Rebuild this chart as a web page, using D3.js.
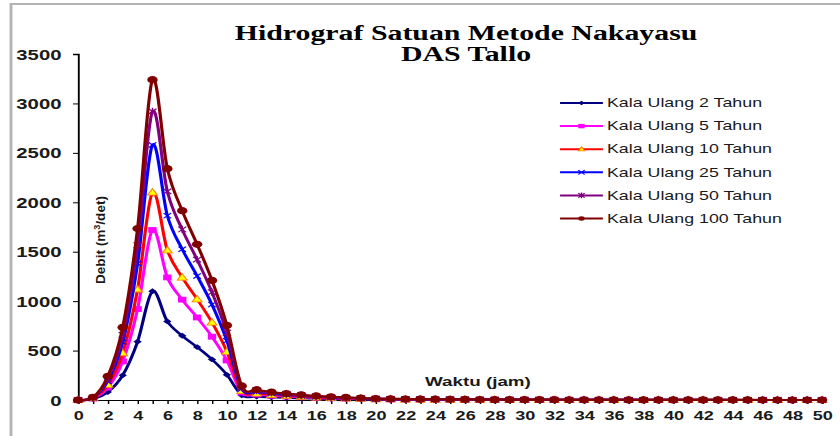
<!DOCTYPE html>
<html>
<head>
	<title>Hidrograf Satuan Metode Nakayasu</title>
	<script src="https://cdn.jsdelivr.net/npm/d3@7"></script>
	<style>
		body { margin: 0; background: #fff; }
		svg { display: block; }
		text { font-family: "Liberation Sans", Arial, sans-serif; fill: #1a1a1a; }
		.title { font-family: "Liberation Serif", "Times New Roman", serif; font-weight: bold; font-size: 20.6px; fill: #000; }
		.tick-y { font-weight: bold; font-size: 14px; }
		.tick-x { font-weight: bold; font-size: 12.5px; }
		.legend-text { font-size: 12.3px; }
	</style>
</head>
<body>
	<div id="chart"></div>

	<script type="text/javascript">
		// waktu (jam)
		var hours = d3.range(0, 51);

		// debit (m3/det) per kala ulang
		var q2 = [0, 10, 80, 250, 590, 1100, 795, 650, 535, 410, 255, 48, 35, 28, 22, 18, 14, 11, 9, 7, 5,
			4, 4, 3, 3, 2, 2, 2, 2, 1, 1, 1, 1, 1, 1, 1, 1, 0, 0, 0, 0, 0, 0, 0, 0, 0, 0, 0, 0, 0, 0];
		var q5 = [0, 15, 125, 390, 920, 1720, 1240, 1015, 835, 640, 400, 75, 55, 43, 35, 28, 22, 17, 14, 10, 8,
			6, 5, 5, 4, 4, 3, 3, 3, 2, 2, 2, 2, 1, 1, 1, 1, 1, 1, 1, 1, 1, 0, 0, 0, 0, 0, 0, 0, 0, 0];
		var q10 = [0, 18, 155, 475, 1120, 2100, 1515, 1240, 1020, 785, 490, 92, 67, 53, 42, 34, 27, 21, 17, 13, 10,
			8, 7, 6, 5, 4, 4, 3, 3, 3, 2, 2, 2, 2, 1, 1, 1, 1, 1, 1, 1, 1, 1, 0, 0, 0, 0, 0, 0, 0, 0];
		var q25 = [0, 22, 190, 585, 1380, 2580, 1865, 1525, 1255, 965, 600, 113, 83, 65, 52, 42, 33, 26, 21, 16, 12,
			10, 8, 7, 6, 5, 4, 4, 3, 3, 3, 2, 2, 2, 2, 1, 1, 1, 1, 1, 1, 1, 1, 1, 0, 0, 0, 0, 0, 0, 0];
		var q50 = [0, 25, 215, 660, 1565, 2920, 2110, 1725, 1420, 1090, 680, 128, 94, 73, 58, 47, 37, 29, 23, 18, 14,
			11, 9, 8, 7, 6, 5, 4, 4, 3, 3, 3, 2, 2, 2, 2, 1, 1, 1, 1, 1, 1, 1, 1, 1, 0, 0, 0, 0, 0, 0];
		var q100 = [0, 28, 240, 735, 1735, 3240, 2340, 1915, 1575, 1210, 755, 142, 104, 81, 65, 52, 41, 33, 26, 20, 15,
			12, 10, 9, 8, 7, 6, 5, 4, 4, 3, 3, 3, 2, 2, 2, 2, 1, 1, 1, 1, 1, 1, 1, 1, 1, 0, 0, 0, 0, 0];

		var seriesNames = ["Kala Ulang 2 Tahun", "Kala Ulang 5 Tahun", "Kala Ulang 10 Tahun",
			"Kala Ulang 25 Tahun", "Kala Ulang 50 Tahun", "Kala Ulang 100 Tahun"];
		var seriesValues = [q2, q5, q10, q25, q50, q100];

		var yTicks = [0, 500, 1000, 1500, 2000, 2500, 3000, 3500];
		var xTicks = d3.range(0, 51, 2);

		// the picture is stretched sideways, so draw in a narrower box and let the svg widen it
		var pageWidth = 840, pageHeight = 436;
		var sx = 1.4483;
		var vbWidth = pageWidth / sx;

		var styles = [
			{color: "#000080", marker: "diamond", fill: "#000080"},
			{color: "#ff00ff", marker: "square", fill: "#ff00ff"},
			{color: "#ff0000", marker: "triangle", fill: "#ffff00", stroke: "#ff8000"},
			{color: "#0000ff", marker: "cross", fill: "none"},
			{color: "#800080", marker: "star", fill: "none"},
			{color: "#800000", marker: "circle", fill: "#800000"}
		];

		var svg = d3.select("#chart")
			.append("svg")
			.attr("width", pageWidth)
			.attr("height", pageHeight)
			.attr("viewBox", "0 0 " + vbWidth + " " + pageHeight)
			.attr("preserveAspectRatio", "none");

		// grey frame (left and top edges show)
		svg.append("rect")
			.attr("x", 7.6)
			.attr("y", 4)
			.attr("width", 700)
			.attr("height", 600)
			.attr("fill", "none")
			.attr("stroke", "#b4b4b4")
			.attr("stroke-width", 2);

		var x = d3.scaleLinear().domain([0, 50]).range([53.9, 567.6]);
		var y = d3.scaleLinear().domain([0, 3500]).range([400, 54]);

		// title
		svg.append("text")
			.attr("class", "title")
			.attr("x", 321.8)
			.attr("y", 40)
			.attr("text-anchor", "middle")
			.text("Hidrograf Satuan Metode Nakayasu");
		svg.append("text")
			.attr("class", "title")
			.attr("x", 321.8)
			.attr("y", 61)
			.attr("text-anchor", "middle")
			.text("DAS Tallo");

		// y axis
		var yAxis = d3.axisLeft(y).tickValues(yTicks).tickSize(3.5).tickPadding(8)
			.tickFormat(d3.format("d"));
		var gy = svg.append("g")
			.attr("transform", "translate(" + x(0) + ",0)")
			.call(yAxis);
		gy.select(".domain").attr("stroke", "#000").attr("stroke-width", 1.3);
		gy.selectAll(".tick line").attr("stroke", "#000").attr("stroke-width", 1);
		gy.selectAll(".tick text")
			.attr("class", "tick-y")
			.attr("font-family", null)
			.attr("font-size", null)
			.attr("dy", "0.36em");

		// x axis
		var xAxis = d3.axisBottom(x).tickValues(hours).tickSize(4).tickPadding(7)
			.tickFormat(function(d){ return xTicks.indexOf(d) >= 0 ? d : ""; });
		var gx = svg.append("g")
			.attr("transform", "translate(0," + y(0) + ")")
			.call(xAxis);
		gx.select(".domain").attr("stroke", "#000").attr("stroke-width", 1);
		gx.selectAll(".tick line").attr("stroke", "#000").attr("stroke-width", 1);
		gx.selectAll(".tick text")
			.attr("class", "tick-x")
			.attr("font-family", null)
			.attr("font-size", null);

		// axis titles
		svg.append("text")
			.attr("x", 330)
			.attr("y", 386)
			.attr("text-anchor", "middle")
			.style("font-weight", "bold")
			.style("font-size", "13px")
			.text("Waktu (jam)");

		var ylab = svg.append("text")
			.attr("transform", "translate(72.3,240) rotate(-90)")
			.attr("text-anchor", "middle")
			.attr("textLength", 88)
			.attr("lengthAdjust", "spacingAndGlyphs")
			.style("font-weight", "bold")
			.style("font-size", "9px");
		ylab.append("tspan").text("Debit (m");
		ylab.append("tspan").attr("baseline-shift", "super").style("font-size", "6px").text("3");
		ylab.append("tspan").text("/det)");

		function markerPath(type, s) {
			if (type == "diamond") return "M0," + (-s) + "L" + s + ",0L0," + s + "L" + (-s) + ",0Z";
			if (type == "square") return "M" + (-s) + "," + (-s) + "H" + s + "V" + s + "H" + (-s) + "Z";
			if (type == "triangle") return "M0," + (-s * 1.1) + "L" + s + "," + (s * 0.8) + "L" + (-s) + "," + (s * 0.8) + "Z";
			if (type == "cross") return "M" + (-s) + "," + (-s) + "L" + s + "," + s + "M" + (-s) + "," + s + "L" + s + "," + (-s);
			if (type == "star") return "M" + (-s) + "," + (-s) + "L" + s + "," + s + "M" + (-s) + "," + s + "L" + s + "," + (-s) + "M0," + (-s * 1.3) + "V" + (s * 1.3);
			return "";
		}

		function drawMarker(sel, st, cx, cy, s) {
			if (st.marker == "circle") {
				sel.append("circle")
					.attr("cx", cx).attr("cy", cy).attr("r", s)
					.attr("fill", st.fill);
			} else {
				var open = (st.marker == "cross" || st.marker == "star");
				sel.append("path")
					.attr("transform", "translate(" + cx + "," + cy + ")")
					.attr("d", markerPath(st.marker, s))
					.attr("fill", open ? "none" : st.fill)
					.attr("stroke", open ? st.color : (st.stroke || "none"))
					.attr("stroke-width", open ? 1 : 0.8);
			}
		}

		var line = d3.line()
			.x(function(d, i){ return x(hours[i]); })
			.y(function(d){ return y(d); })
			.curve(d3.curveCatmullRom.alpha(0));

		var seriesLayer = svg.append("g");
		var markerSizes = [2.9, 2.9, 3.4, 2.6, 2.8, 3.6];

		seriesValues.forEach(function(vals, k) {
			var st = styles[k];
			var g = seriesLayer.append("g");
			g.append("path")
				.datum(vals)
				.attr("d", line)
				.attr("fill", "none")
				.attr("stroke", st.color)
				.attr("stroke-width", 2.2);
			vals.forEach(function(v, i) {
				drawMarker(g, st, x(hours[i]), y(v), markerSizes[k]);
			});
		});

		// legend
		var legend = svg.append("g");
		seriesNames.forEach(function(name, k) {
			var st = styles[k];
			var ly = 103 + k * 23.1;
			legend.append("line")
				.attr("x1", 386.7).attr("x2", 416.3)
				.attr("y1", ly).attr("y2", ly)
				.attr("stroke", st.color)
				.attr("stroke-width", 2);
			drawMarker(legend, st, 401.5, ly, 2.2);
			legend.append("text")
				.attr("class", "legend-text")
				.attr("x", 419.1)
				.attr("y", ly + 4.3)
				.text(name);
		});
	</script>
</body>
</html>
